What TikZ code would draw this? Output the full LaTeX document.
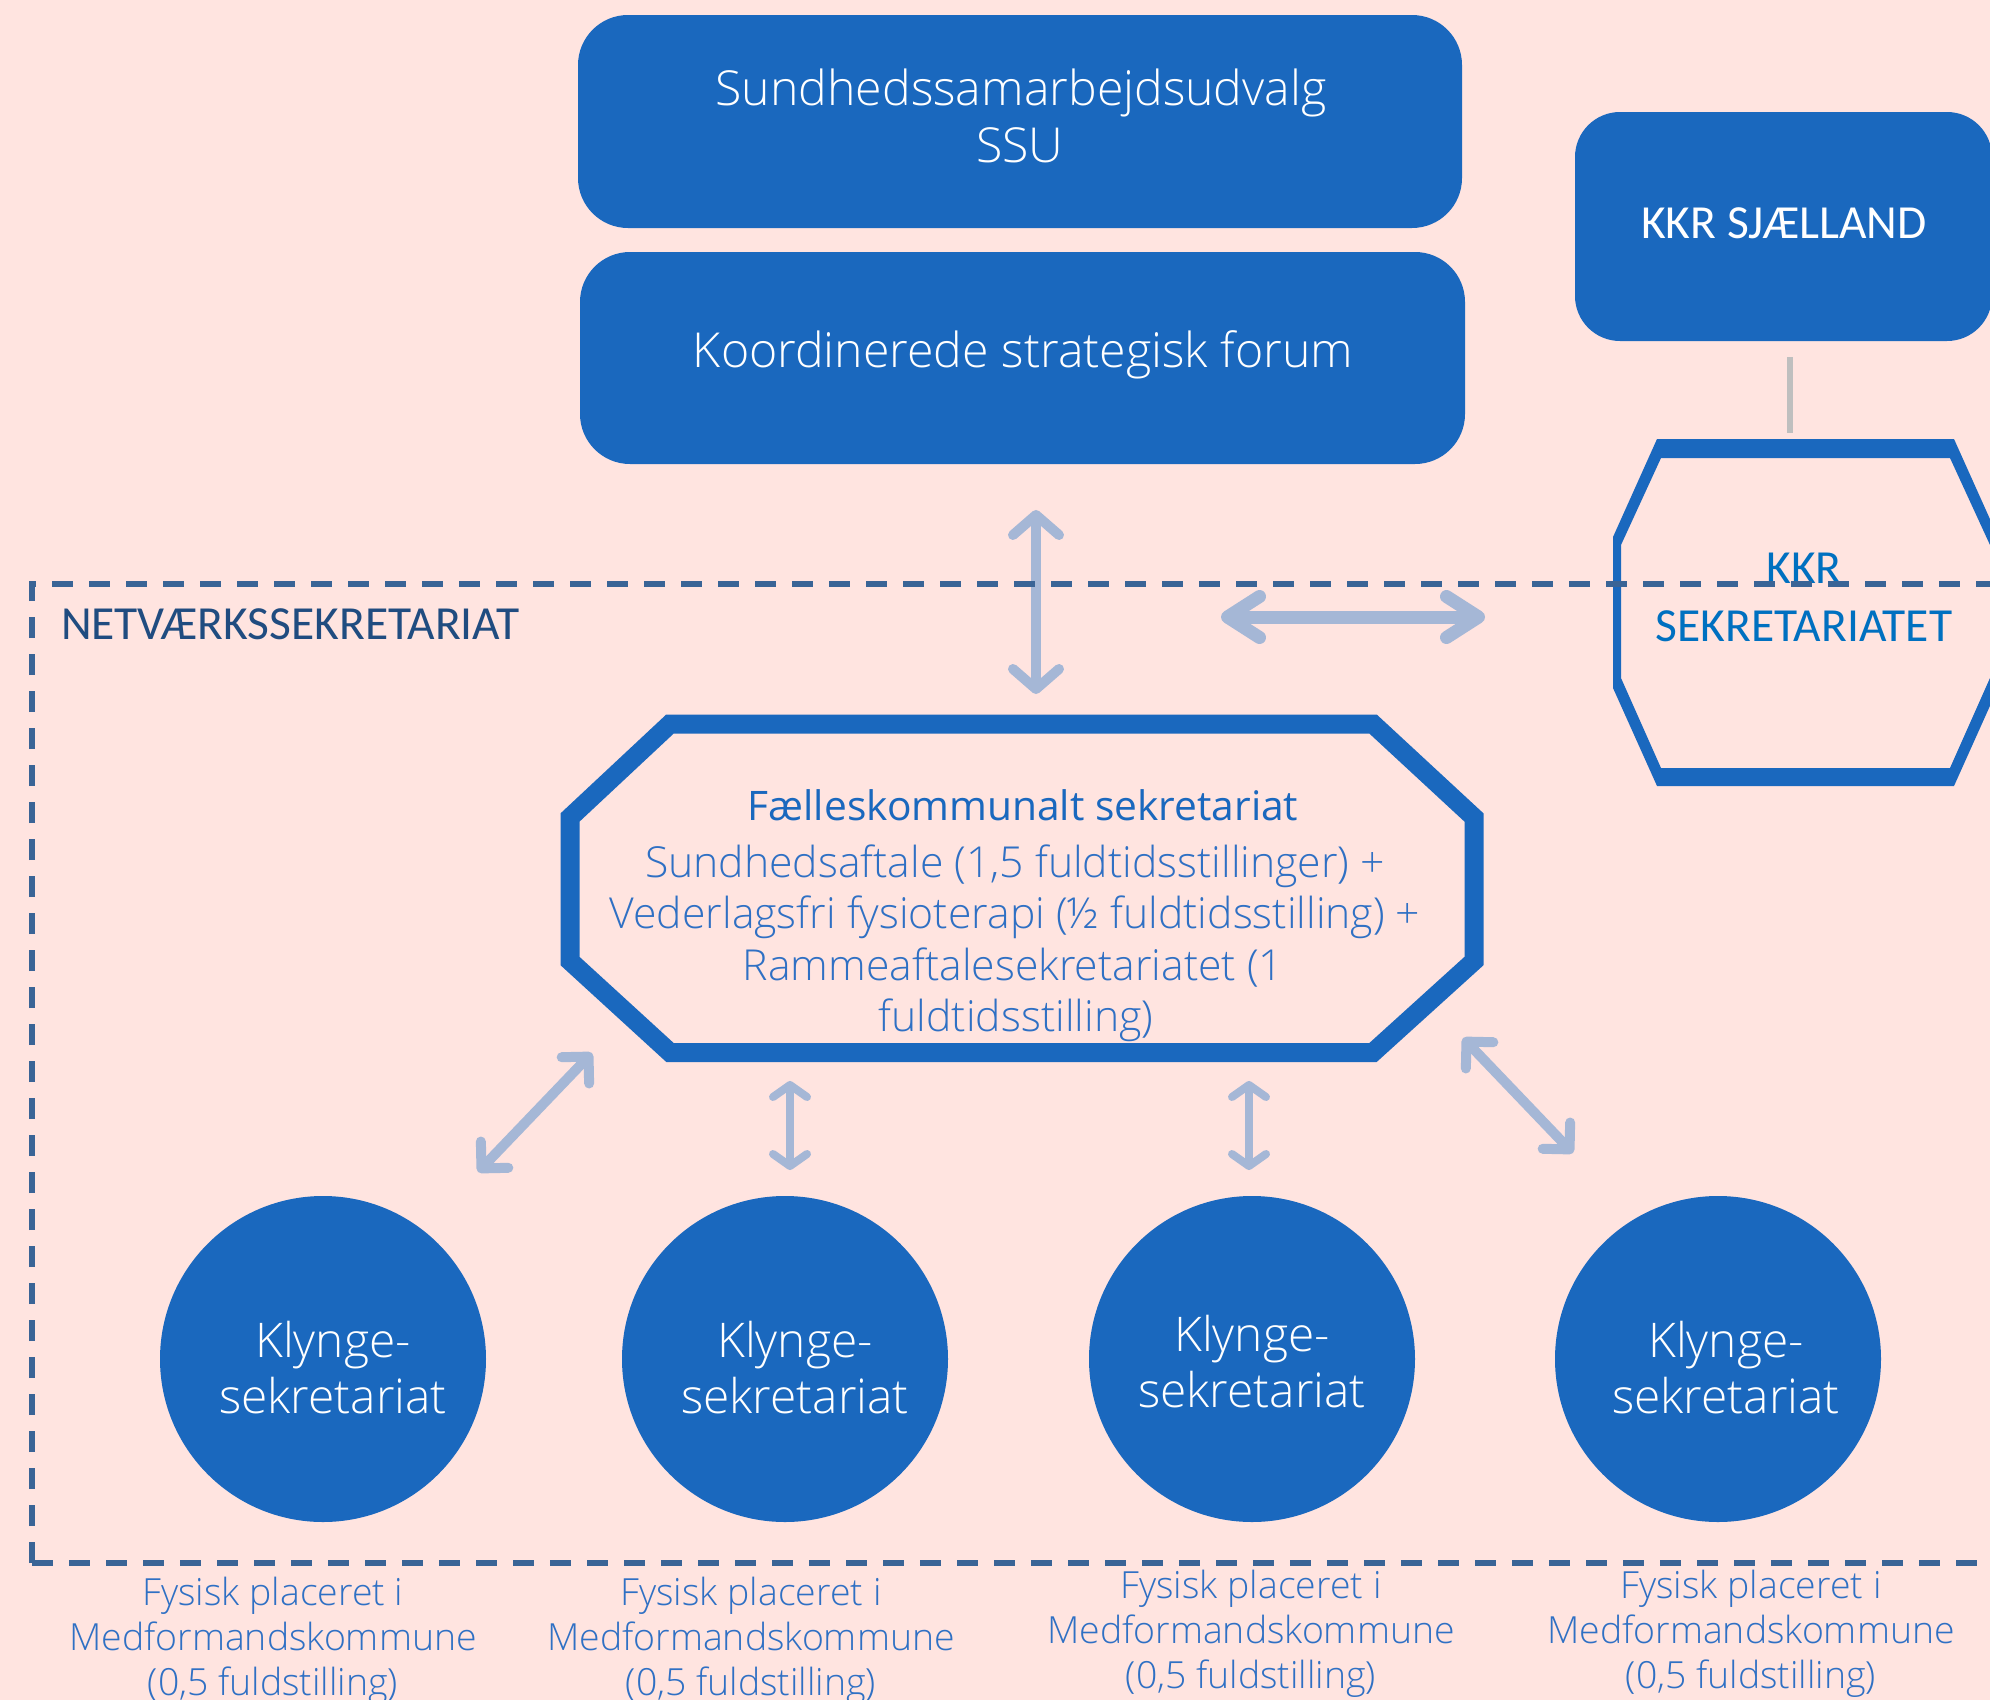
\documentclass[tikz,border=0pt]{standalone}
\usepackage{fontspec}
\setmainfont{Open Sans}
\newfontfamily\oslight{Open Sans Light}
\newfontfamily\calib{Carlito}
\usetikzlibrary{arrows.meta}
\definecolor{bgc}{HTML}{FFE4E0}
\definecolor{boxblue}{HTML}{1A68BE}
\definecolor{arrowc}{HTML}{A5B7D6}
\definecolor{dashc}{HTML}{3A6496}
\definecolor{kkrtext}{HTML}{0070C0}
\definecolor{netv}{HTML}{204C80}
\definecolor{bodyblue}{HTML}{2F70C4}
\definecolor{grayline}{HTML}{BFBFBF}
\begin{document}
\begin{tikzpicture}[x=1pt,y=-1pt,
  bluebox/.style={draw=none, fill=boxblue, rounded corners=50pt, inner sep=0pt},
  txt/.style={anchor=base, inner sep=0pt, outer sep=0pt},
  boxtxt/.style={txt, text=white, font=\oslight\fontsize{48.2}{57}\selectfont},
  kkrfont/.style={txt, font=\calib\fontsize{47.5}{56}\selectfont},
  ftitle/.style={txt, text=boxblue, font=\fontsize{40.7}{50}\selectfont},
  fbody/.style={txt, text=bodyblue, font=\oslight\fontsize{42.7}{50}\selectfont},
  klynge/.style={circle, fill=boxblue, minimum size=326pt, inner sep=0pt},
  ktxt/.style={txt, text=white, font=\oslight\fontsize{47.8}{56}\selectfont},
  lbl/.style={txt, text=bodyblue, font=\oslight\fontsize{37.4}{45}\selectfont},
  bigv/.style={draw=arrowc, line width=10pt, line cap=round,
    arrows={Straight Barb[round,length=20pt,width=46pt]-Straight Barb[round,length=20pt,width=46pt]}},
  bigh/.style={draw=arrowc, line width=13pt, line cap=round,
    arrows={Straight Barb[round,length=32pt,width=41pt]-Straight Barb[round,length=32pt,width=41pt]}},
  smallv/.style={draw=arrowc, line width=8pt, line cap=round,
    arrows={Straight Barb[round,length=12pt,width=34pt]-Straight Barb[round,length=12pt,width=34pt]}},
  diag/.style={draw=arrowc, line width=10pt, line cap=round,
    arrows={Straight Barb[round,length=19pt,width=38pt]-Straight Barb[round,length=19pt,width=38pt]}},
  netdash/.style={draw=dashc, line width=5.5pt, dash pattern=on 21pt off 16pt}
]
\useasboundingbox (0,0) rectangle (1990,1700);
\clip (0,0) rectangle (1990,1700);
\fill[bgc] (0,0) rectangle (1990,1700);

% top boxes
\node[bluebox, minimum width=884pt, minimum height=213pt] (ssu) at (1020,121.5) {};
\node[boxtxt] (ssu1) at (1021,105) {Sundhedssamarbejdsudvalg};
\node[boxtxt] (ssu2) at (1020,162) {SSU};
\node[bluebox, minimum width=885pt, minimum height=212pt] (kor) at (1022.5,358) {};
\node[boxtxt] (kortxt) at (1023,367) {Koordinerede strategisk forum};

% KKR Sjaelland
\node[bluebox, rounded corners=45pt, minimum width=417pt, minimum height=229pt] (kkrsj) at (1783.5,226.5) {};
\node[kkrfont, text=white] (kkrsjt) at (1784,238) {KKR SJÆLLAND};
\coordinate (g1) at (1790,357);
\coordinate (g2) at (1790,433);
\draw[grayline, line width=6pt] (g1) -- (g2);

% KKR sekretariatet octagon
\fill[boxblue, even odd rule]
  (1657,439) -- (1954,439) -- (1998,537) -- (1998,688) -- (1954,786) -- (1657,786) -- (1613,688) -- (1613,537) -- cycle
  (1661,458) -- (1950,458) -- (1990,545) -- (1990,678) -- (1950,768) -- (1661,768) -- (1621,678) -- (1621,545) -- cycle;
\node[kkrfont, text=kkrtext] (kkrs1) at (1804,583) {KKR};
\node[kkrfont, text=kkrtext] (kkrs2) at (1804,641) {SEKRETARIATET};

% Faelleskommunalt octagon
\draw[boxblue, line width=19pt, miter limit=10]
  (670,724) -- (1373,724) -- (1474,817.5) -- (1474,961) -- (1373,1052.5) -- (670,1052.5) -- (570,961) -- (570,817.5) -- cycle;
\node[ftitle] (f0) at (1023,820) {Fælleskommunalt sekretariat};
\node[fbody] (f1) at (1015,877) {Sundhedsaftale (1,5 fuldtidsstillinger) +};
\node[fbody] (f2) at (1015,928.5) {Vederlagsfri fysioterapi (½ fuldtidsstilling) +};
\node[fbody] (f3) at (1013,980) {Rammeaftalesekretariatet (1};
\node[fbody] (f4) at (1016,1031) {fuldtidsstilling)};

% Klynge circles
\node[klynge] (k1) at (323,1359) {};
\node[klynge] (k2) at (785,1359) {};
\node[klynge] (k3) at (1252,1359) {};
\node[klynge] (k4) at (1718,1359) {};
\node[ktxt] (k1a) at (333,1357) {Klynge-};
\node[ktxt] (k1b) at (333,1413) {sekretariat};
\node[ktxt] (k2a) at (795,1357) {Klynge-};
\node[ktxt] (k2b) at (795,1413) {sekretariat};
\node[ktxt] (k3a) at (1252,1351) {Klynge-};
\node[ktxt] (k3b) at (1252,1407) {sekretariat};
\node[ktxt] (k4a) at (1726,1357) {Klynge-};
\node[ktxt] (k4b) at (1726,1413) {sekretariat};

% labels
\node[lbl] (l1a) at (273,1605) {Fysisk placeret i};
\node[lbl] (l1b) at (273,1650) {Medformandskommune};
\node[lbl] (l1c) at (273,1695) {(0,5 fuldstilling)};
\node[lbl] (l2a) at (751,1605) {Fysisk placeret i};
\node[lbl] (l2b) at (751,1650) {Medformandskommune};
\node[lbl] (l2c) at (751,1695) {(0,5 fuldstilling)};
\node[lbl] (l3a) at (1251,1598) {Fysisk placeret i};
\node[lbl] (l3b) at (1251,1643) {Medformandskommune};
\node[lbl] (l3c) at (1251,1688) {(0,5 fuldstilling)};
\node[lbl] (l4a) at (1751,1598) {Fysisk placeret i};
\node[lbl] (l4b) at (1751,1643) {Medformandskommune};
\node[lbl] (l4c) at (1751,1688) {(0,5 fuldstilling)};

% arrows
\coordinate (v1a) at (1036,510);
\coordinate (v1b) at (1036,694);
\draw[bigv] (v1a) -- (v1b);
\coordinate (h1a) at (1221,617);
\coordinate (h1b) at (1485,617);
\draw[bigh] (h1a) -- (h1b);
\coordinate (d1a) at (478,1172);
\coordinate (d1b) at (592,1053);
\draw[diag] (d1a) -- (d1b);
\coordinate (s1a) at (790,1081);
\coordinate (s1b) at (790,1170);
\draw[smallv] (s1a) -- (s1b);
\coordinate (s2a) at (1249,1081);
\coordinate (s2b) at (1249,1170);
\draw[smallv] (s2a) -- (s2b);
\coordinate (d2a) at (1463,1038);
\coordinate (d2b) at (1573,1153);
\draw[diag] (d2a) -- (d2b);

% netvaerk dashed frame
\draw[netdash] (32,1563) -- (32,584) -- (2000,584);
\draw[netdash] (32,1563) -- (2000,1563);
\node[txt, anchor=base west, text=netv, font=\calib\fontsize{47.5}{54}\selectfont] (netvt) at (61,639) {NETVÆRKSSEKRETARIAT};
\end{tikzpicture}
\end{document}
